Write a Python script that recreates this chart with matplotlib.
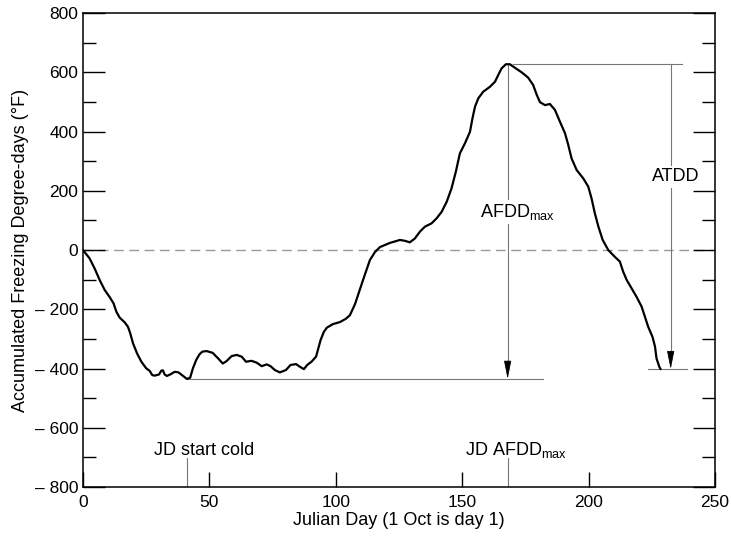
"""
Accumulated freezing degree-days over a winter season (1 Oct = day 1).
"""

import matplotlib.pyplot as plt
from matplotlib.ticker import FixedLocator, MultipleLocator

plt.rcParams['font.family'] = ['Liberation Sans', 'DejaVu Sans']
plt.rcParams['mathtext.fontset'] = 'custom'
plt.rcParams['mathtext.rm'] = 'Liberation Sans'
plt.rcParams['font.size'] = 12.5

# ----------------------------------------------------------------------------
# Data
# ----------------------------------------------------------------------------
day = [0, 2.6, 4.6, 6.6, 8.6, 10.5, 12.1, 13.2, 14.5, 16.5, 17.8, 18.7, 19.8,
       21.4, 23.1, 25.0, 26.4, 27.4, 28.3, 30.1, 31.0, 31.6, 32.3, 33.2, 34.5,
       36.3, 37.8, 39.6, 41.1, 42.4, 43.5, 44.8, 46.1, 47.2, 48.9, 51.3, 53.5,
       55.3, 56.8, 58.8, 60.8, 62.8, 64.5, 66.7, 68.7, 70.7, 72.7, 74.2, 75.9,
       77.9, 80.3, 82.1, 84.3, 85.8, 87.4, 88.7, 90.4, 92.2, 93.1, 94.0, 95.3,
       96.5, 98.9, 101.7, 104.0, 105.6, 107.6, 110.8, 113.5, 115.5, 117.5,
       121.4, 125.4, 127.4, 129.3, 131.3, 133.3, 135.3, 137.9, 139.9, 141.9,
       143.9, 145.8, 147.5, 149.1, 151.1, 153.1, 154.1, 155.1, 156.4, 158.3,
       161.0, 163.0, 164.3, 165.6, 167.3, 168.9, 170.9, 173.5, 176.1, 178.1,
       179.5, 180.8, 182.8, 184.7, 186.7, 188.7, 190.7, 192.0, 193.3, 195.3,
       197.9, 199.9, 201.2, 202.5, 203.9, 205.6, 207.8, 210.4, 212.4, 213.7,
       215.1, 217.0, 219.0, 221.0, 222.3, 223.6, 225.3, 226.3, 226.9, 228.0,
       228.5]
afdd = [0, -28, -62, -101, -135, -158, -180, -208, -228, -244, -259, -281,
        -315, -349, -377, -399, -408, -422, -424, -420, -407, -406, -420, -425,
        -420, -411, -413, -425, -435, -431, -399, -371, -352, -343, -341, -347,
        -366, -383, -375, -358, -354, -360, -377, -374, -380, -392, -386, -392,
        -405, -413, -405, -388, -385, -394, -402, -388, -377, -360, -332, -304,
        -276, -262, -250, -243, -232, -220, -183, -101, -34, -7, 10, 24, 34, 31,
        26, 39, 62, 79, 90, 107, 129, 163, 208, 264, 326, 360, 399, 445, 484,
        512, 534, 551, 568, 591, 613, 627, 627, 615, 600, 582, 557, 524, 499,
        489, 493, 473, 433, 394, 354, 309, 270, 242, 214, 174, 124, 79, 34, 0,
        -23, -39, -73, -101, -129, -158, -191, -225, -259, -293, -326, -366,
        -394, -402]

y_ticks = [800, 600, 400, 200, 0, -200, -400, -600, -800]
y_labels = ['800', '600', '400', '200', '0',
            '\u2013 200', '\u2013 400', '\u2013 600', '\u2013 800']
x_ticks = [0, 50, 100, 150, 200, 250]

# key markers
cold_day, min_val = 41, -435
peak_day, peak_val = 168, 628
atdd_day, end_val = 232.5, -402

# ----------------------------------------------------------------------------
# Plot
# ----------------------------------------------------------------------------
fig = plt.figure(figsize=(7.31, 5.37), dpi=100)
ax = fig.add_axes([0.1135, 0.093, 0.8645, 0.8828])

ax.axhline(0, color='#999999', lw=1.0, dashes=(7, 4), zorder=1)

# reference lines
thin = dict(color='#777777', lw=0.8, zorder=2)
ax.plot([cold_day, 182], [min_val, min_val], **thin)
ax.plot([170, 237], [peak_val, peak_val], **thin)
ax.plot([223.5, 239], [end_val, end_val], **thin)
ax.plot([peak_day, peak_day], [peak_val, min_val + 30], **thin)
ax.plot([atdd_day, atdd_day], [peak_val, end_val + 30], **thin)
for xx, yy in [(peak_day, min_val), (atdd_day, end_val)]:
    ax.annotate('', xy=(xx, yy), xytext=(xx, yy + 60),
                arrowprops=dict(arrowstyle='-|>,head_length=0.9,head_width=0.18',
                                color='black', lw=0.6, shrinkA=0, shrinkB=0))

ax.plot(day, afdd, color='black', lw=1.6, solid_joinstyle='round',
        solid_capstyle='round', zorder=3)

box = dict(facecolor='white', edgecolor='none', pad=1.5)
ax.text(157, 128, r'AFDD$_{\mathrm{max}}$', ha='left', va='center',
        fontsize=13, bbox=box, zorder=4)
ax.text(225.2, 247, 'ATDD', ha='left', va='center', fontsize=13, bbox=box,
        zorder=4)

# Julian-day markers at the bottom
ax.plot([cold_day, cold_day], [-703, -800], **thin)
ax.plot([peak_day, peak_day], [-703, -800], **thin)
ax.text(28.1, -693, 'JD start cold', ha='left', va='baseline', fontsize=13)
ax.text(151.1, -693, r'JD AFDD$_{\mathrm{max}}$', ha='left', va='baseline',
        fontsize=13)

ax.set_xlim(0, 250)
ax.set_ylim(-800, 800)
ax.yaxis.set_major_locator(FixedLocator(y_ticks))
ax.set_yticklabels(y_labels)
ax.yaxis.set_minor_locator(MultipleLocator(100))
ax.xaxis.set_major_locator(FixedLocator(x_ticks))

ax.tick_params(axis='y', which='major', direction='in', length=16, width=1.0,
               left=True, right=True, pad=3.5, labelsize=12.5)
ax.tick_params(axis='y', which='minor', direction='in', length=9.5, width=1.0,
               left=True, right=True)
ax.tick_params(axis='x', which='major', direction='in', length=11, width=1.0,
               top=False, pad=6, labelsize=12.5)
for s in ax.spines.values():
    s.set_linewidth(1.1)

ax.set_xlabel('Julian Day (1 Oct is day 1)', fontsize=13, labelpad=1)
ax.set_ylabel('Accumulated Freezing Degree-days (\u00b0F)', fontsize=13,
              labelpad=4)

fig.savefig('out.png', dpi=100)
